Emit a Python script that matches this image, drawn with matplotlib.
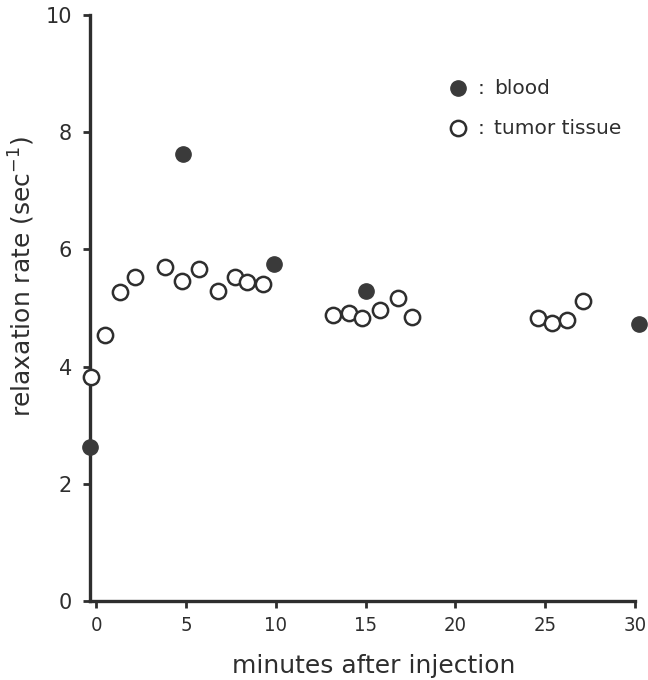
import matplotlib
matplotlib.use("Agg")
import matplotlib.pyplot as plt

plt.rcParams["font.family"] = ["DejaVu Sans"]

# blood (filled circles)
blood_t = [-0.35, 4.8, 9.9, 15.0, 30.2]
blood_r = [2.63, 7.63, 5.75, 5.29, 4.73]

# tumor tissue (open circles)
tumor_t = [-0.3, 0.5, 1.3, 2.15, 3.8, 4.75, 5.7, 6.8, 7.7, 8.4, 9.3,
           13.2, 14.05, 14.8, 15.8, 16.8, 17.6,
           24.6, 25.4, 26.2, 27.1]
tumor_r = [3.82, 4.54, 5.27, 5.53, 5.7, 5.46, 5.66, 5.29, 5.53, 5.45, 5.41,
           4.88, 4.91, 4.83, 4.96, 5.17, 4.85,
           4.83, 4.74, 4.8, 5.12]

xticks = [0, 5, 10, 15, 20, 25, 30]
xtick_labels = ["0", "5", "10", "15", "20", "25", "30"]
yticks = [0, 2, 4, 6, 8, 10]

ink = "#2e2e2e"

fig = plt.figure(figsize=(6.48, 6.8), dpi=100)
ax = fig.add_axes([0.139, 0.116, 0.841, 0.862])

ax.plot(tumor_t, tumor_r, "o", ms=11, mfc="white", mec=ink, mew=1.8,
        ls="none", clip_on=False, zorder=3)
ax.plot(blood_t, blood_r, "o", ms=11, mfc="#3a3a3a", mec="#3a3a3a", mew=1,
        ls="none", clip_on=False, zorder=4)

ax.set_xlim(-0.35, 30)
ax.set_ylim(0, 10)
ax.set_yticks(yticks)
# x tick digits are narrow in the original
ax.set_xticks(xticks)
ax.set_xticklabels(xtick_labels, family=["Liberation Sans Narrow", "DejaVu Sans"],
                   fontstretch="condensed", fontsize=14.5)

for s in ["top", "right"]:
    ax.spines[s].set_visible(False)
for s in ["left", "bottom"]:
    ax.spines[s].set_linewidth(2.4)
    ax.spines[s].set_color(ink)

ax.tick_params(length=5, width=2, color=ink, labelcolor=ink)
ax.tick_params(axis="y", pad=8, labelsize=15)
ax.tick_params(axis="x", pad=6)

ax.set_xlabel("minutes after injection", fontsize=18, color=ink)
ax.set_ylabel("relaxation rate (sec$^{-1}$)", fontsize=18, color=ink)
ax.xaxis.set_label_coords(0.521, -0.09)
ax.yaxis.set_label_coords(-0.097, 0.553)

# legend drawn as markers + text in axes coordinates
ax.plot([0.676], [0.875], "o", ms=11, mfc="#3a3a3a", mec="#3a3a3a",
        transform=ax.transAxes, clip_on=False)
ax.plot([0.676], [0.807], "o", ms=11, mfc="white", mec=ink, mew=1.8,
        transform=ax.transAxes, clip_on=False)
ax.text(0.712, 0.875, ":", transform=ax.transAxes, va="center",
        fontsize=14.5, color=ink)
ax.text(0.712, 0.807, ":", transform=ax.transAxes, va="center",
        fontsize=14.5, color=ink)
ax.text(0.742, 0.875, "blood", transform=ax.transAxes, va="center",
        fontsize=14.5, color=ink)
ax.text(0.742, 0.807, "tumor tissue", transform=ax.transAxes, va="center",
        fontsize=14.5, color=ink)

fig.savefig("out.png", dpi=100)
